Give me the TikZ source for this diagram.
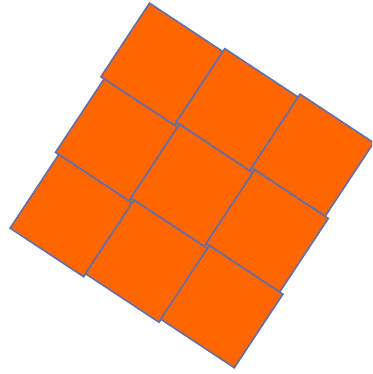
\documentclass[tikz,border=0pt]{standalone}
\definecolor{tileorange}{RGB}{255,102,0}
\definecolor{tileedge}{RGB}{98,110,170}
\begin{document}
\begin{tikzpicture}[x=1pt,y=-1pt,
  tile/.style={fill=tileorange,draw=tileedge,line width=1.6pt,line join=miter}]
\useasboundingbox (0,0) rectangle (372,374);
\clip (0,0) rectangle (372,374);
% orange backing so the small steps where four tiles meet stay orange
\fill[tileorange] (162,64.25) -- (312.6,155.25) -- (221.8,306.65) -- (71.2,215.65) -- cycle;
\foreach \j in {0,1,2}{
  \foreach \i in {0,1,2}{
    \pgfmathsetmacro{\cx}{162+75.3*\i-45.4*\j}
    \pgfmathsetmacro{\cy}{64.25+45.5*\i+75.7*\j}
    \draw[tile] (\cx-12.5,\cy-61.1) -- (\cx+61.1,\cy-12.5) -- (\cx+12.5,\cy+61.1) -- (\cx-61.1,\cy+12.5) -- cycle;
  }
}
\end{tikzpicture}
\end{document}
